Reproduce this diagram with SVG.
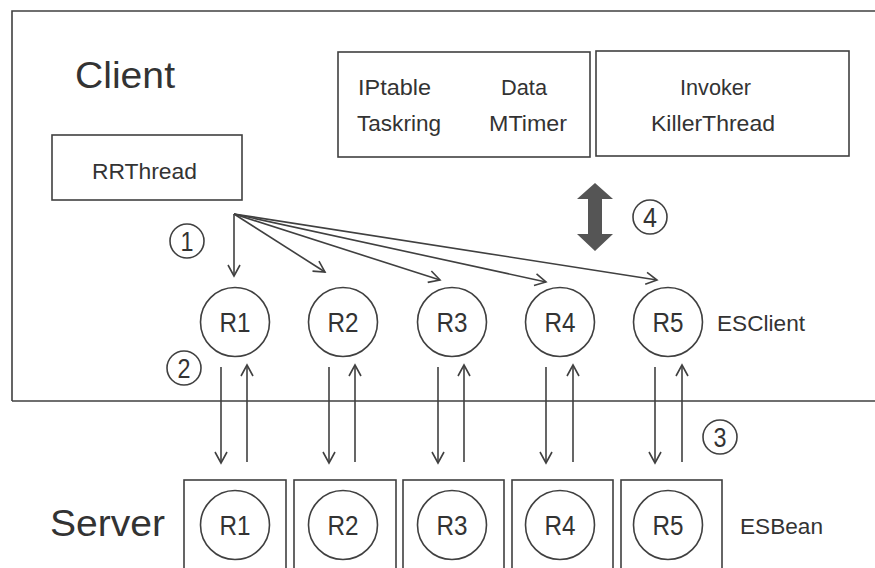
<svg xmlns="http://www.w3.org/2000/svg" width="875" height="568" viewBox="0 0 875 568">
<style>
.ln{fill:none;stroke:#404040;stroke-width:1.6}
.bx{fill:none;stroke:#404040;stroke-width:1.6}
.t{font-family:"Liberation Sans",Arial,sans-serif;fill:#333}
.lbl{font-size:22px}
.rl{font-size:27px;text-anchor:middle}
.num{font-size:27px;text-anchor:middle}
</style>
<defs>
<marker id="ah" viewBox="-12 -7 14 14" refX="0" refY="0" markerWidth="14" markerHeight="14" markerUnits="userSpaceOnUse" orient="auto">
<path d="M-11,-6 L0,0 L-11,6" fill="none" stroke="#404040" stroke-width="1.6"/>
</marker>
</defs>
<rect width="875" height="568" fill="#fff"/>

<g id="client">
<path class="bx" d="M12,401 L12,11 L880,11 M12,401 L880,401"/>
<text class="t" x="75" y="88" font-size="36" textLength="100" lengthAdjust="spacingAndGlyphs">Client</text>
</g>

<g id="rrthread">
<rect class="bx" x="52" y="135" width="190" height="65"/>
<text class="t lbl" x="92" y="179" textLength="105" lengthAdjust="spacingAndGlyphs">RRThread</text>
</g>

<g id="data-box">
<rect class="bx" x="338" y="52" width="252" height="105"/>
<text class="t lbl" x="358" y="95" textLength="73" lengthAdjust="spacingAndGlyphs">IPtable</text>
<text class="t lbl" x="501" y="95" textLength="46" lengthAdjust="spacingAndGlyphs">Data</text>
<text class="t lbl" x="357" y="131" textLength="84" lengthAdjust="spacingAndGlyphs">Taskring</text>
<text class="t lbl" x="489" y="131" textLength="78" lengthAdjust="spacingAndGlyphs">MTimer</text>
</g>

<g id="invoker-box">
<rect class="bx" x="596" y="51" width="253" height="105"/>
<text class="t lbl" x="680" y="95" textLength="71" lengthAdjust="spacingAndGlyphs">Invoker</text>
<text class="t lbl" x="651" y="131" textLength="124" lengthAdjust="spacingAndGlyphs">KillerThread</text>
</g>

<g id="esclient">
<g id="c1"><circle class="ln" cx="235" cy="322" r="34.5"/><text class="t rl" x="235" y="332" textLength="31" lengthAdjust="spacingAndGlyphs">R1</text></g>
<g id="c2"><circle class="ln" cx="343" cy="322" r="34.5"/><text class="t rl" x="343" y="332" textLength="31" lengthAdjust="spacingAndGlyphs">R2</text></g>
<g id="c3"><circle class="ln" cx="452" cy="322" r="34.5"/><text class="t rl" x="452" y="332" textLength="31" lengthAdjust="spacingAndGlyphs">R3</text></g>
<g id="c4"><circle class="ln" cx="560" cy="322" r="34.5"/><text class="t rl" x="560" y="332" textLength="31" lengthAdjust="spacingAndGlyphs">R4</text></g>
<g id="c5"><circle class="ln" cx="668" cy="322" r="34.5"/><text class="t rl" x="668" y="332" textLength="31" lengthAdjust="spacingAndGlyphs">R5</text></g>
<text class="t lbl" x="717" y="331" textLength="88" lengthAdjust="spacingAndGlyphs">ESClient</text>
</g>

<g id="server">
<text class="t" x="50" y="536" font-size="36" textLength="115" lengthAdjust="spacingAndGlyphs">Server</text>
<g id="s1"><rect class="bx" x="184" y="480" width="102" height="100"/><circle class="ln" cx="235" cy="525" r="34.5"/><text class="t rl" x="235" y="535" textLength="31" lengthAdjust="spacingAndGlyphs">R1</text></g>
<g id="s2"><rect class="bx" x="294" y="480" width="102" height="100"/><circle class="ln" cx="343" cy="525" r="34.5"/><text class="t rl" x="343" y="535" textLength="31" lengthAdjust="spacingAndGlyphs">R2</text></g>
<g id="s3"><rect class="bx" x="403" y="480" width="101" height="100"/><circle class="ln" cx="452" cy="525" r="34.5"/><text class="t rl" x="452" y="535" textLength="31" lengthAdjust="spacingAndGlyphs">R3</text></g>
<g id="s4"><rect class="bx" x="512" y="480" width="101" height="100"/><circle class="ln" cx="560" cy="525" r="34.5"/><text class="t rl" x="560" y="535" textLength="31" lengthAdjust="spacingAndGlyphs">R4</text></g>
<g id="s5"><rect class="bx" x="621" y="480" width="101" height="100"/><circle class="ln" cx="668" cy="525" r="34.5"/><text class="t rl" x="668" y="535" textLength="31" lengthAdjust="spacingAndGlyphs">R5</text></g>
<text class="t lbl" x="740" y="534" textLength="83" lengthAdjust="spacingAndGlyphs">ESBean</text>
</g>

<g id="markers-numbers">
<g id="n1"><circle class="ln" cx="187" cy="241" r="17"/><text class="t num" x="187" y="251" textLength="13" lengthAdjust="spacingAndGlyphs">1</text></g>
<g id="n2"><circle class="ln" cx="184" cy="368" r="17"/><text class="t num" x="184" y="378" textLength="13" lengthAdjust="spacingAndGlyphs">2</text></g>
<g id="n3"><circle class="ln" cx="720" cy="437" r="17"/><text class="t num" x="720" y="447" textLength="13" lengthAdjust="spacingAndGlyphs">3</text></g>
<g id="n4"><circle class="ln" cx="650" cy="217" r="17"/><text class="t num" x="650" y="227" textLength="14" lengthAdjust="spacingAndGlyphs">4</text></g>
</g>

<g id="connectors">
<path class="ln" marker-end="url(#ah)" d="M234,214 L234,276"/>
<path class="ln" marker-end="url(#ah)" d="M234,214 L325,272"/>
<path class="ln" marker-end="url(#ah)" d="M234,214 L440,280"/>
<path class="ln" marker-end="url(#ah)" d="M234,214 L546,282"/>
<path class="ln" marker-end="url(#ah)" d="M234,214 L657,280"/>

<path class="ln" marker-end="url(#ah)" d="M221,367 L221,463"/>
<path class="ln" marker-end="url(#ah)" d="M247,462 L247,365"/>
<path class="ln" marker-end="url(#ah)" d="M329,367 L329,463"/>
<path class="ln" marker-end="url(#ah)" d="M355,462 L355,365"/>
<path class="ln" marker-end="url(#ah)" d="M438,367 L438,463"/>
<path class="ln" marker-end="url(#ah)" d="M464,462 L464,365"/>
<path class="ln" marker-end="url(#ah)" d="M546,367 L546,463"/>
<path class="ln" marker-end="url(#ah)" d="M573,462 L573,365"/>
<path class="ln" marker-end="url(#ah)" d="M655,367 L655,463"/>
<path class="ln" marker-end="url(#ah)" d="M682,462 L682,365"/>

<polygon id="big-arrow" points="595,183 613,199 602,199 602,234 613,234 595,251 577,234 588,234 588,199 577,199" fill="#555"/>
</g>
</svg>
